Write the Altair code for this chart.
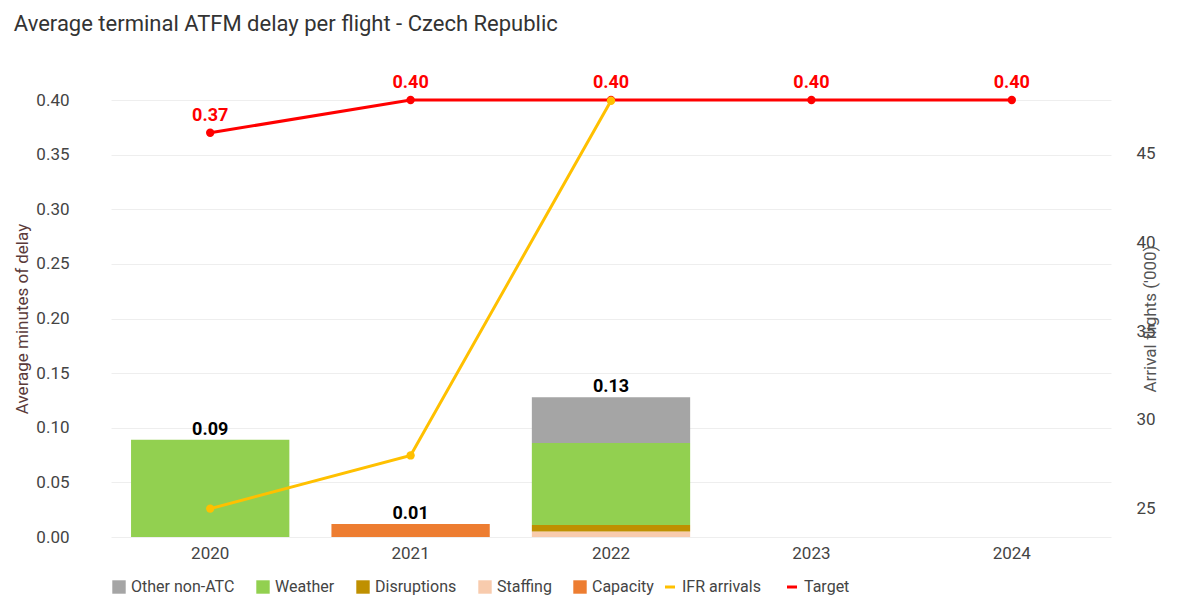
import altair as alt
import pandas as pd

years = ["2020", "2021", "2022", "2023", "2024"]
target = [0.37, 0.40, 0.40, 0.40, 0.40]
ifr_years = ["2020", "2021", "2022"]
ifr_arrivals = [25.0, 28.0, 48.0]

causes = ["Other non-ATC", "Weather", "Disruptions", "Staffing", "Capacity"]
cause_colors = ["#A5A5A5", "#92D050", "#BF9000", "#F8CBAD", "#ED7D31"]
delay = {
    "2020": {"Weather": 0.089},
    "2021": {"Capacity": 0.012},
    "2022": {"Capacity": 0.0, "Staffing": 0.005, "Disruptions": 0.006,
             "Weather": 0.075, "Other non-ATC": 0.042},
}
totals_years = ["2020", "2021", "2022"]
totals = [0.09, 0.01, 0.13]

rows = []
for y, d in delay.items():
    for c, v in d.items():
        rows.append({"year": y, "cause": c, "v": v, "ord": causes.index(c)})
bars_df = pd.DataFrame(rows)
tot_df = pd.DataFrame({"year": totals_years, "total": totals,
                       "top": [sum(delay[y].values()) for y in totals_years]})
tgt_df = pd.DataFrame({"year": years, "v": target, "s": "Target"})
ifr_df = pd.DataFrame({"year": ifr_years, "v": ifr_arrivals, "s": "IFR arrivals"})

x = alt.X("year:N", sort=years, scale=alt.Scale(domain=years, paddingInner=0.21, paddingOuter=0.1),
          axis=alt.Axis(title=None, labelAngle=0, ticks=False, domain=False, labelFontSize=17,
                        labelColor="#444", labelPadding=8))
yleft = alt.Scale(domain=[0, 0.4], nice=False)
left_axis = alt.Axis(title="Average minutes of delay", format=".2f", values=[i * 0.05 for i in range(9)],
                     titleColor="#5a3a3a", titleFontSize=17, titleFontWeight="normal",
                     labelFontSize=17, labelColor="#444", ticks=False, domain=False,
                     gridColor="#eeeeee", labelPadding=42)
line_scale = alt.Scale(domain=["IFR arrivals", "Target"], range=["#FFC000", "#FF0000"])
line_legend = alt.Legend(title=None, orient="bottom", symbolType="stroke", labelFontSize=16,
                         labelColor="#444", symbolStrokeWidth=3)

bars = alt.Chart(bars_df).mark_bar().encode(
    x=x,
    y=alt.Y("sum(v):Q", scale=yleft, axis=left_axis),
    fill=alt.Fill("cause:N", scale=alt.Scale(domain=causes, range=cause_colors),
                  legend=alt.Legend(title=None, orient="bottom", symbolType="square",
                                    labelFontSize=16, labelColor="#444", symbolSize=180)),
    order=alt.Order("ord:Q", sort="descending"),
)
tot_text = alt.Chart(tot_df).mark_text(dy=-10, fontSize=18, fontWeight="bold", color="black").encode(
    x=x, y=alt.Y("top:Q", scale=yleft), text=alt.Text("total:Q", format=".2f"))
tgt_line = alt.Chart(tgt_df).mark_line(strokeWidth=3).encode(
    x=x, y=alt.Y("v:Q", scale=yleft),
    color=alt.Color("s:N", scale=line_scale, legend=line_legend))
tgt_pts = alt.Chart(tgt_df).mark_point(shape="circle", filled=True, size=70, opacity=1, color="#FF0000").encode(
    x=x, y=alt.Y("v:Q", scale=yleft))
tgt_text = alt.Chart(tgt_df).mark_text(dy=-17, fontSize=18, fontWeight="bold", color="#FF0000").encode(
    x=x, y=alt.Y("v:Q", scale=yleft), text=alt.Text("v:Q", format=".2f"))
left = alt.layer(bars, tot_text, tgt_line, tgt_pts, tgt_text)

yright = alt.Scale(domain=[23.4, 48.04], nice=False, zero=False)
right_axis = alt.Axis(title="Arrival flights ('000)", orient="right", values=[25, 30, 35, 40, 45],
                      titleColor="#555", titleFontSize=17, titleFontWeight="normal", titleAngle=270,
                      labelFontSize=17, labelColor="#444", ticks=False, domain=False, grid=False,
                      labelPadding=25)
ifr_line = alt.Chart(ifr_df).mark_line(strokeWidth=3).encode(
    x=x, y=alt.Y("v:Q", scale=yright, axis=right_axis),
    color=alt.Color("s:N", scale=line_scale, legend=line_legend))
ifr_pts = alt.Chart(ifr_df).mark_point(shape="circle", filled=True, size=70, opacity=1, color="#FFC000").encode(
    x=x, y=alt.Y("v:Q", scale=yright, axis=right_axis))
right = alt.layer(ifr_line, ifr_pts)

chart = alt.layer(left, right).resolve_scale(y="independent").properties(
    width=1000, height=437,
    title=alt.TitleParams("Average terminal ATFM delay per flight - Czech Republic", anchor="start",
                          fontSize=22, fontWeight="normal", color="#333", offset=38),
).configure(font="Roboto").configure_view(stroke=None).configure_legend(
    labelFont="Roboto", columnPadding=20)

chart.save("out.html", embed_options={"renderer": "svg", "actions": False})
